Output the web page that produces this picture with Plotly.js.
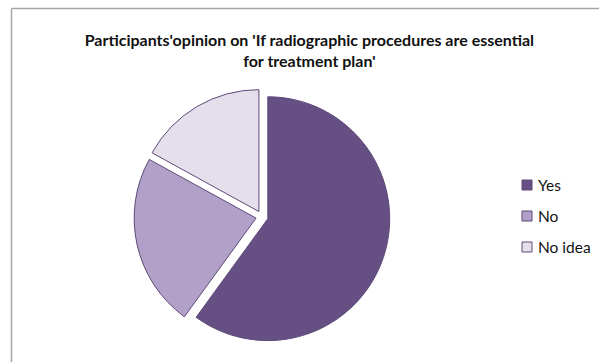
<!DOCTYPE html>
<html><head><meta charset="utf-8">
<script src="https://cdn.plot.ly/plotly-3.0.1.min.js"></script>
<style>html,body{margin:0;padding:0;background:#fff;}</style>
</head><body>
<div id="chart" style="width:599px;height:362px;"></div>
<script>
const labels = ["Yes", "No", "No idea"];
const values = [60, 23, 17];
const colors = ["#664F83", "#B1A1C8", "#E5DFEC"];
const titleText = "Participants'opinion on 'If radiographic procedures are essential<br>for treatment plan'";

const W = 599, H = 362;
const px = x => x / W, py = y => 1 - y / H;
const outline = "#5E4978";
const font = "Lato, 'Open Sans', sans-serif";

const shapes = [
  {type: "line", xref: "paper", yref: "paper", x0: px(11.5), x1: px(599), y0: py(8.5), y1: py(8.5), line: {color: "#A6A6A6", width: 1.5}},
  {type: "line", xref: "paper", yref: "paper", x0: px(11.5), x1: px(11.5), y0: py(8.5), y1: py(362), line: {color: "#A6A6A6", width: 1.5}}
];
const annotations = [];
labels.forEach((lab, i) => {
  const cy = 185 + 31 * i;
  shapes.push({type: "rect", xref: "paper", yref: "paper", x0: px(522), x1: px(532), y0: py(cy + 5), y1: py(cy - 5),
    fillcolor: colors[i], line: {color: outline, width: 1}});
  annotations.push({xref: "paper", yref: "paper", x: px(536), y: py(cy), xanchor: "left", yanchor: "middle",
    text: lab, showarrow: false, font: {family: font, size: 15.5, color: "#111"}});
});

const data = [{
  type: "pie",
  labels: labels,
  values: values,
  sort: false,
  direction: "clockwise",
  rotation: 0,
  pull: [0.05, 0.05, 0.05],
  textinfo: "none",
  marker: {colors: colors, line: {color: outline, width: 1}},
  domain: {x: [px(134), px(390)], y: [py(344.8), py(88.8)]},
  showlegend: false
}];

const layout = {
  width: W, height: H,
  margin: {l: 0, r: 0, t: 0, b: 0},
  paper_bgcolor: "#fff",
  showlegend: false,
  title: {text: titleText, xref: "paper", x: px(309.4), xanchor: "center", yref: "paper", y: py(46), yanchor: "middle",
    font: {family: font, size: 16, color: "#111", weight: "bold"}},
  shapes: shapes,
  annotations: annotations
};
Plotly.newPlot("chart", data, layout, {displayModeBar: false, staticPlot: true});
</script>
</body></html>
